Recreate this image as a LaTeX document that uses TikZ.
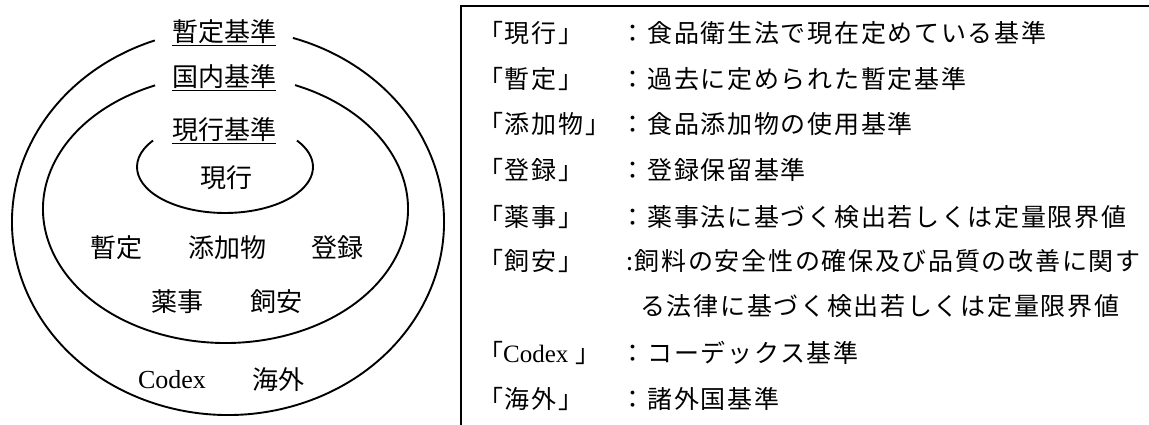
\documentclass[tikz,border=0pt]{standalone}
\usepackage{fontspec}
\newfontfamily\jp{Noto Sans CJK JP}
\newfontfamily\jpk[LetterSpace=6.8]{Noto Sans CJK JP}
\newfontfamily\lat{Liberation Serif}
\begin{document}
\begin{tikzpicture}[x=1pt,y=1pt,
  ring/.style={line width=1.9pt},
  lbl/.style={inner sep=0pt, font=\jp\fontsize{26}{30}\selectfont},
  ulline/.style={line width=1.2pt},
  key/.style={anchor=west, inner sep=0pt, font=\jpk\fontsize{25}{30}\selectfont},
  frametop/.style={line width=2.2pt},
  frameleft/.style={line width=1.5pt}]
\useasboundingbox (0,0) rectangle (1149,425);
\fill[white] (0,0) rectangle (1149,425);

% rings
\coordinate (oc) at (228,203);
\coordinate (mc) at (225.5,216);
\coordinate (ic) at (225,258);
\draw[ring] (oc) ++(109.8:216pt and 193pt) arc[start angle=109.8, end angle=432.5, x radius=216pt, y radius=193pt];
\draw[ring] (mc) ++(112.7:182.5pt and 134pt) arc[start angle=112.7, end angle=427.6, x radius=182.5pt, y radius=134pt];
\draw[ring] (ic) ++(144.9:88pt and 46pt) arc[start angle=144.9, end angle=395.1, x radius=88pt, y radius=46pt];

% ring titles
\node[lbl] (h1) at (224,393) {暫定基準};
\node[lbl] (h2) at (224,348) {国内基準};
\node[lbl] (h3) at (224,295) {現行基準};
\draw[ulline] ([yshift=-1pt]h1.south west) -- ([yshift=-1pt]h1.south east);
\draw[ulline] ([yshift=-1pt]h2.south west) -- ([yshift=-1pt]h2.south east);
\draw[ulline] ([yshift=-1pt]h3.south west) -- ([yshift=-1pt]h3.south east);

% ring contents
\node[lbl] (g) at (226,247) {現行};
\node[lbl] (z) at (116,177) {暫定};
\node[lbl] (t) at (227,177) {添加物};
\node[lbl] (r) at (337,177) {登録};
\node[lbl] (y) at (177,123) {薬事};
\node[lbl] (s) at (276,123) {飼安};
\node[lbl,font=\lat\fontsize{26}{30}\selectfont] (c) at (172,45) {Codex};
\node[lbl] (k) at (278,45) {海外};

% frame
\coordinate (ftl) at (461,419);
\coordinate (fbl) at (461,0);
\coordinate (ftr) at (1149,419);
\draw[frameleft] (fbl) -- (ftl);
\draw[frametop] ([xshift=-0.75pt]ftl) -- (ftr);

% legend
\node[key] (k0) at (478,392) {「現行」};
\node[key] (d0) at (620.5,392) {：食品衛生法で現在定めている基準};
\node[key] (k1) at (478,346.3) {「暫定」};
\node[key] (d1) at (620.5,346.3) {：過去に定められた暫定基準};
\node[key] (k2) at (478,300.6) {「添加物」};
\node[key] (d2) at (620.5,300.6) {：食品添加物の使用基準};
\node[key] (k3) at (478,254.9) {「登録」};
\node[key] (d3) at (620.5,254.9) {：登録保留基準};
\node[key] (k4) at (478,207.5) {「薬事」};
\node[key] (d4) at (620.5,207.5) {：薬事法に基づく検出若しくは定量限界値};
\node[key] (k5) at (478,163.5) {「飼安」};
\node[key] (d5) at (626,163.5) {:飼料の安全性の確保及び品質の改善に関す};
\node[key] (d6) at (640,118.5) {る法律に基づく検出若しくは定量限界値};
\node[key] (k7) at (478,72.1) {「{\lat Codex}\ 」};
\node[key] (d7) at (620.5,72.1) {：コーデックス基準};
\node[key] (k8) at (478,26.4) {「海外」};
\node[key] (d8) at (620.5,26.4) {：諸外国基準};
\end{tikzpicture}
\end{document}
